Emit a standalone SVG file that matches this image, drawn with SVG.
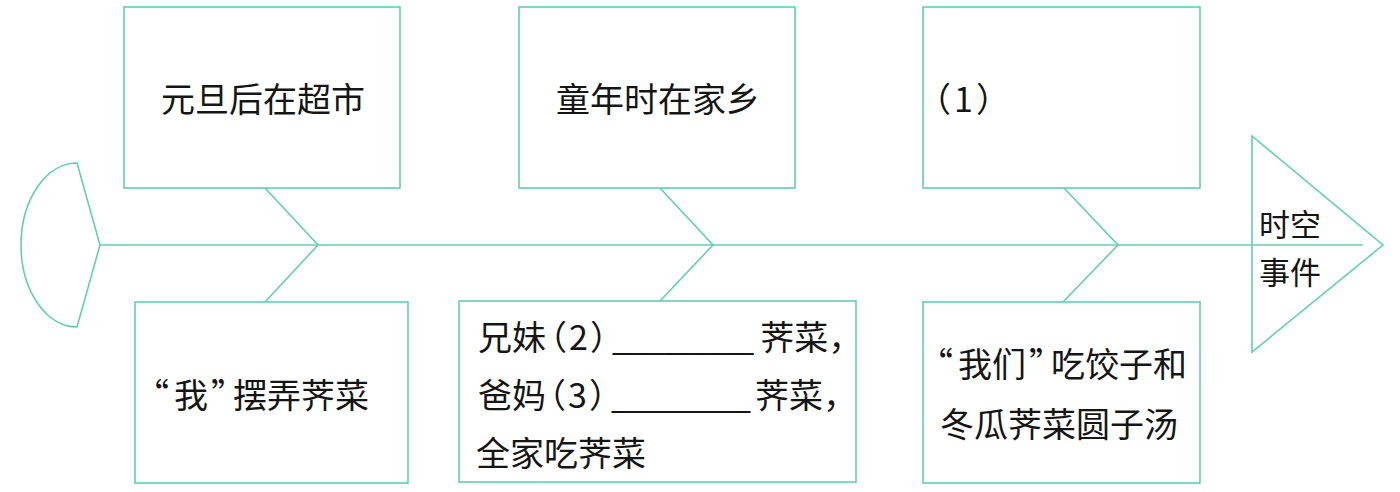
<svg xmlns="http://www.w3.org/2000/svg" width="1400" height="492" viewBox="0 0 1400 492">
<style>
.box{fill:#ffffff;stroke:#62cfae;stroke-width:1.6}
.ln{fill:none;stroke:#62cfae;stroke-width:1.6;stroke-linejoin:miter}
.t{font-family:"Noto Sans CJK SC","Noto Sans CJK JP",sans-serif;font-size:34px;fill:#151515}
.h{font-feature-settings:"halt" 1}
.s{font-family:"Noto Sans CJK SC","Noto Sans CJK JP",sans-serif;font-size:31px;fill:#151515}
</style>
<rect width="1400" height="492" fill="#ffffff"/>
<g id="connectors">
<line class="ln" x1="100" y1="245" x2="1363" y2="245"/>
<polyline class="ln" points="265,188 318,245 265,302"/>
<polyline class="ln" points="660,188 713,245 660,301"/>
<polyline class="ln" points="1064,188 1118,245 1063,302"/>
</g>
<g id="head">
<path class="ln" d="M77,163 L100,245 L77,327 A56,82 0 0 1 77,163 Z"/>
</g>
<g id="tail">
<polygon class="ln" points="1252,136 1383,245 1252,352"/>
<text class="s" x="1259" y="236">时空</text>
<text class="s" x="1259" y="284">事件</text>
</g>
<g id="node-top1">
<rect class="box" x="124" y="7" width="276" height="181"/>
<text class="t" x="161" y="112">元旦后在超市</text>
</g>
<g id="node-top2">
<rect class="box" x="519" y="7" width="276" height="181"/>
<text class="t" x="556" y="112">童年时在家乡</text>
</g>
<g id="node-top3">
<rect class="box" x="923" y="7" width="277" height="181"/>
<text class="t h" x="934" y="112" dx="0 3 3">（1）</text>
</g>
<g id="node-bottom1">
<rect class="box" x="135" y="302" width="273" height="181"/>
<text class="t h" x="152" y="408" dx="0 5 3 5">“我”摆弄荠菜</text>
</g>
<g id="node-bottom2">
<rect class="box" x="459" y="301" width="397" height="181"/>
<text class="t h" x="478" y="350" dx="0 0 4 2 2 5 -1.4 -1.4 -1.4 -1.4 -1.4 -1.4 -1.4 6">兄妹（2）________荠菜，</text>
<text class="t h" x="478" y="408" dx="0 0 3 2 2 5 -1.7 -1.7 -1.7 -1.7 -1.7 -1.7 -1.7 4">爸妈（3）________荠菜，</text>
<text class="t" x="476" y="466">全家吃荠菜</text>
</g>
<g id="node-bottom3">
<rect class="box" x="923" y="302" width="277" height="181"/>
<text class="t h" x="936" y="377" dx="0 5 0 3 5">“我们”吃饺子和</text>
<text class="t" x="940" y="437">冬瓜荠菜圆子汤</text>
</g>
</svg>
